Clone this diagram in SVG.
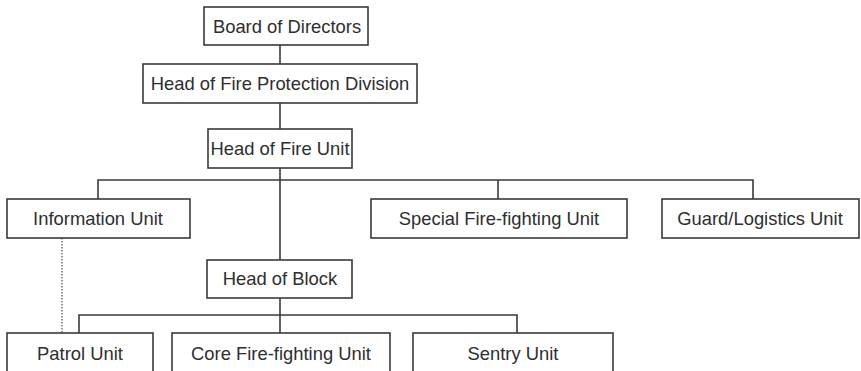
<svg xmlns="http://www.w3.org/2000/svg" width="861" height="371" viewBox="0 0 861 371">
<style>
.box{fill:#fff;stroke:#3a3a3a;stroke-width:1.6}
.t{font-family:"Liberation Sans",Arial,sans-serif;font-size:18.4px;fill:#2e2e2e;text-anchor:middle}
.c{fill:none;stroke:#3a3a3a;stroke-width:1.6}
.d{fill:none;stroke:#555;stroke-width:1.2;stroke-dasharray:1.5 1.5}
</style>
<rect width="861" height="371" fill="#fff"/>
<g id="connectors">
<line class="c" x1="280" y1="45" x2="280" y2="64"/>
<line class="c" x1="280" y1="103" x2="280" y2="129"/>
<line class="c" x1="280" y1="168" x2="280" y2="260"/>
<polyline class="c" points="98,199 98,180 753,180 753,199"/>
<line class="c" x1="498" y1="180" x2="498" y2="199"/>
<line class="c" x1="280" y1="298" x2="280" y2="333"/>
<polyline class="c" points="79,333 79,315 517,315 517,333"/>
<line class="d" x1="62" y1="238" x2="62" y2="333"/>
</g>
<g id="board"><rect class="box" x="204" y="7" width="164" height="38"/><text class="t" x="287" y="33">Board of Directors</text></g>
<g id="division"><rect class="box" x="143" y="64" width="274" height="39"/><text class="t" x="280" y="90">Head of Fire Protection Division</text></g>
<g id="fireunit"><rect class="box" x="208" y="129" width="144" height="39"/><text class="t" x="280" y="155">Head of Fire Unit</text></g>
<g id="information"><rect class="box" x="7" y="199" width="183" height="39"/><text class="t" x="98" y="225">Information Unit</text></g>
<g id="special"><rect class="box" x="371" y="199" width="256" height="39"/><text class="t" x="499" y="225">Special Fire-fighting Unit</text></g>
<g id="guard"><rect class="box" x="662" y="199" width="197" height="39"/><text class="t" x="760" y="225">Guard/Logistics Unit</text></g>
<g id="block"><rect class="box" x="207" y="260" width="145" height="38"/><text class="t" x="280" y="285">Head of Block</text></g>
<g id="patrol"><rect class="box" x="7" y="333" width="146" height="40"/><text class="t" x="80" y="360">Patrol Unit</text></g>
<g id="core"><rect class="box" x="172" y="333" width="218" height="40"/><text class="t" x="281" y="360">Core Fire-fighting Unit</text></g>
<g id="sentry"><rect class="box" x="413" y="333" width="200" height="40"/><text class="t" x="513" y="360">Sentry Unit</text></g>
</svg>
